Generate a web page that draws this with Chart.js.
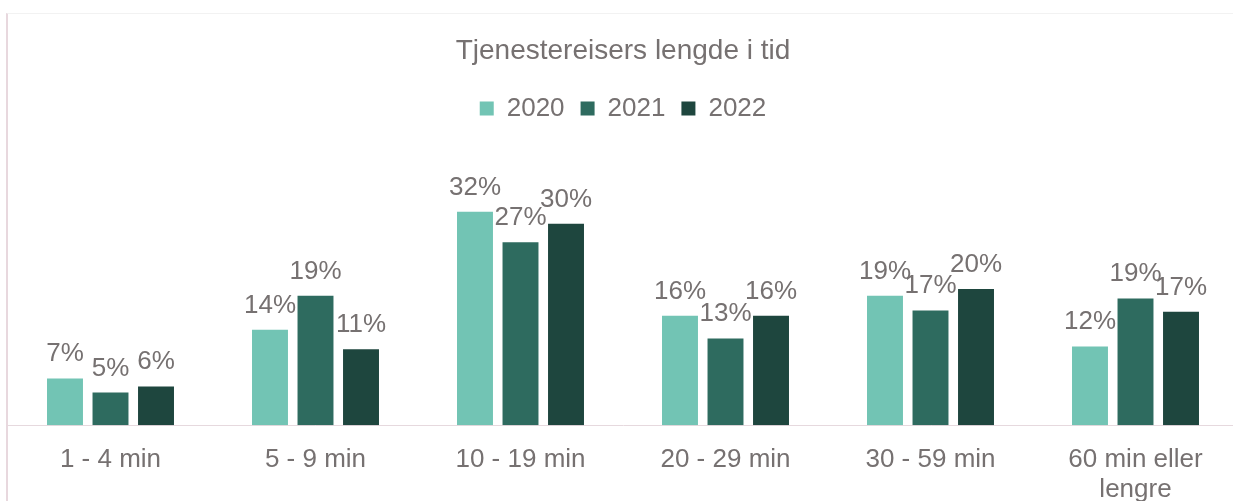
<!DOCTYPE html>
<html>
<head>
<meta charset="utf-8">
<script src="https://cdn.jsdelivr.net/npm/chart.js@4"></script>
<style>
  html, body { margin: 0; padding: 0; background: #fff; overflow: hidden; }
  #frame {
    position: absolute; left: 6px; top: 13px;
    width: 1232px; height: 488px;
    border-left: 2px solid #e8d8de;
    border-top: 1px solid #f2f2f2;
  }
  #wrap { position: absolute; left: 0; top: 0; width: 1230px; height: 511px; }
</style>
</head>
<body>
<div id="frame"><div id="wrap"><canvas id="myChart"></canvas></div></div>
<script>
// categories and values (percent)
let categories = [
    "1 - 4 min",
    "5 - 9 min",
    "10 - 19 min",
    "20 - 29 min",
    "30 - 59 min",
    ["60 min eller", "lengre"]
];
let years = ["2020", "2021", "2022"];
let values2020 = [7, 14.3, 32, 16.4, 19.4, 11.8];
let values2021 = [4.9, 19.4, 27.4, 13, 17.2, 19];
let values2022 = [5.8, 11.4, 30.2, 16.4, 20.4, 17];
let colors = ["#72c4b4", "#2e6b5f", "#1e463e"];

let grey = "#767171";
let fontFamily = "'Liberation Sans', Arial, sans-serif";

//draws the value above each bar
let barLabels = {
    id: "barLabels",
    afterDatasetsDraw(chart) {
        let ctx = chart.ctx;
        ctx.save();
        ctx.font = "26px " + fontFamily;
        ctx.fillStyle = grey;
        ctx.textAlign = "center";
        ctx.textBaseline = "alphabetic";
        chart.data.datasets.forEach((ds, i) => {
            chart.getDatasetMeta(i).data.forEach((bar, j) => {
                ctx.fillText(Math.round(ds.data[j]) + "%", bar.x, bar.y - 17);
            });
        });
        ctx.restore();
    }
};

let data = {
    labels: categories,
    datasets: [
        { label: years[0], data: values2020, backgroundColor: colors[0] },
        { label: years[1], data: values2021, backgroundColor: colors[1] },
        { label: years[2], data: values2022, backgroundColor: colors[2] }
    ]
};

let config = {
    type: "bar",
    data: data,
    options: {
        responsive: true,
        maintainAspectRatio: false,
        animation: false,
        categoryPercentage: 0.666,
        barPercentage: 0.79,
        layout: { padding: 0 },
        plugins: {
            title: {
                display: true,
                text: "Tjenestereisers lengde i tid",
                color: grey,
                font: { family: fontFamily, size: 28, weight: "normal", lineHeight: 1.2 },
                padding: { top: 20, bottom: 12 }
            },
            legend: {
                display: true,
                labels: {
                    color: grey,
                    boxWidth: 14,
                    boxHeight: 14,
                    padding: 16,
                    font: { family: fontFamily, size: 26 }
                }
            },
            tooltip: { enabled: false }
        },
        scales: {
            x: {
                grid: { display: false, drawTicks: false },
                border: { display: true, color: "#e6d9de", width: 1 },
                ticks: {
                    color: grey,
                    padding: 20,
                    maxRotation: 0,
                    autoSkip: false,
                    font: { family: fontFamily, size: 26, lineHeight: 1.15 }
                }
            },
            y: {
                display: false,
                min: 0,
                max: 44
            }
        }
    },
    plugins: [barLabels]
};

let barChart = new Chart(document.getElementById("myChart"), config);
</script>
</body>
</html>
